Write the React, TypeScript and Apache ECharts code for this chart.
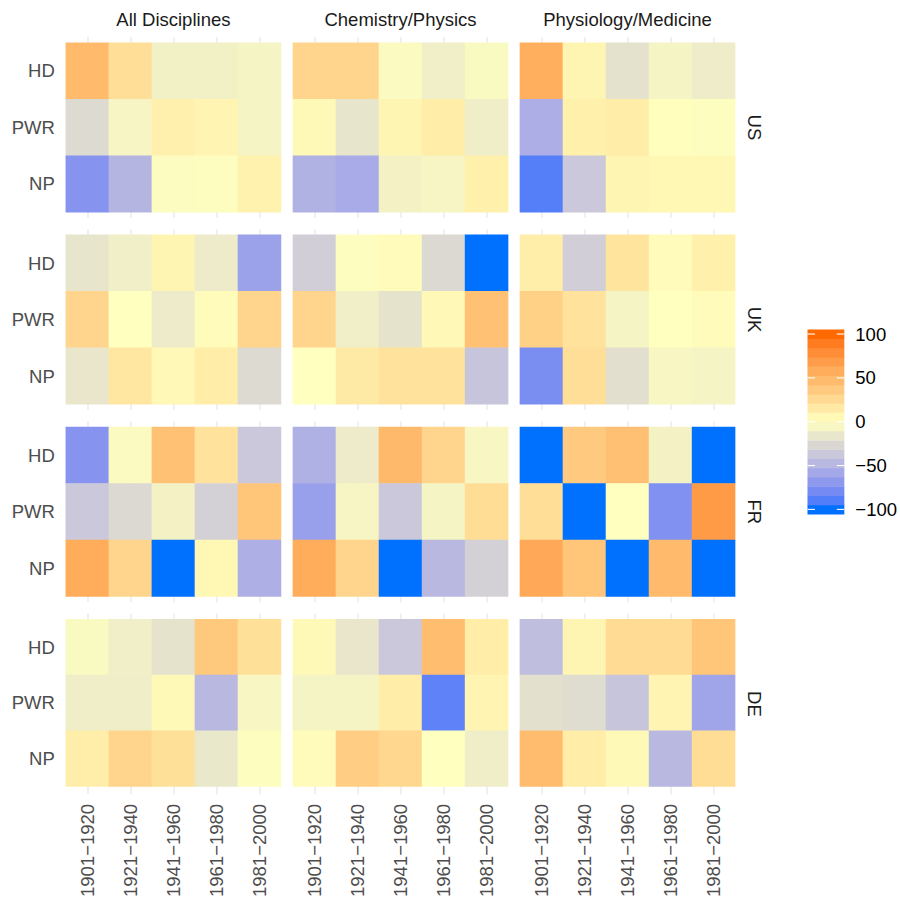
import React, { useEffect, useRef } from "react";
import * as echarts from "echarts";

// ---------- categories ----------
const PERIODS = ["1901−1920", "1921−1940", "1941−1960", "1961−1980", "1981−2000"];
const MEASURES_TOP_DOWN = ["HD", "PWR", "NP"];
const DISCIPLINES = ["All Disciplines", "Chemistry/Physics", "Physiology/Medicine"];
const COUNTRIES = ["US", "UK", "FR", "DE"];

// ---------- values (rows: HD, PWR, NP; columns: periods) ----------
const US_ALL = [[48, 23, -9, -9, -7], [-24, -6, 10, 8, -7], [-72, -49, -2, -1, 9]];
const US_CHEM = [[29, 29, -3, -10, -4], [4, -17, 7, 13, -11], [-51, -56, -8, -6, 11]];
const US_MED = [[56, 7, -19, -7, -12], [-54, 11, 13, 1, -1], [-89, -36, 7, 6, 6]];
const UK_ALL = [[-17, -10, 7, -13, -62], [29, 0, -13, 3, 29], [-16, 17, 5, 13, -24]];
const UK_CHEM = [[-32, -1, 2, -25, -100], [29, -10, -18, 5, 43], [0, 15, 20, 20, -38]];
const UK_MED = [[12, -32, 19, 3, 11], [32, 20, -7, 0, 3], [-77, 23, -21, -5, -7]];
const FR_ALL = [[-72, -3, 43, 20, -36], [-36, -25, -8, -30, 41], [58, 29, -100, 6, -53]];
const FR_CHEM = [[-52, -13, 49, 29, -5], [-64, -6, -36, -7, 24], [58, 29, -100, -47, -30]];
const FR_MED = [[-100, 37, 44, -8, -100], [23, -100, 0, -74, 70], [60, 40, -100, 48, -100]];
const DE_ALL = [[-4, -10, -18, 38, 22], [-11, -11, 4, -47, -5], [12, 29, 22, -15, -1]];
const DE_CHEM = [[4, -16, -36, 46, 13], [-7, -7, 13, -86, 8], [3, 34, 28, 0, -11]];
const DE_MED = [[-43, 7, 25, 25, 40], [-20, -23, -38, 8, -60], [47, 13, 4, -47, 24]];

const PANELS = [
  [US_ALL, US_CHEM, US_MED],
  [UK_ALL, UK_CHEM, UK_MED],
  [FR_ALL, FR_CHEM, FR_MED],
  [DE_ALL, DE_CHEM, DE_MED],
];

const LEGEND_BREAKS = [-100, -50, 0, 50, 100];
const SCALE_MIN = -100;
const SCALE_MAX = 100;
const PALETTE_ANCHORS = ["#0070FF", "#FFFFBF", "#FF6A00"]; // at -100, 0, 100
const LEGEND_NBIN = 20;

// ---------- Lab interpolation (like ggplot's gradientn) ----------
const Xn = 0.95047, Yn = 1.0, Zn = 1.08883;
function lin(c: number) {
  c /= 255;
  return c <= 0.04045 ? c / 12.92 : Math.pow((c + 0.055) / 1.055, 2.4);
}
function unlin(c: number) {
  const v = c <= 0.0031308 ? 12.92 * c : 1.055 * Math.pow(c, 1 / 2.4) - 0.055;
  return Math.round(Math.min(1, Math.max(0, v)) * 255);
}
function fl(t: number) { return t > 0.008856 ? Math.cbrt(t) : 7.787 * t + 16 / 116; }
function finv(t: number) { const t3 = t * t * t; return t3 > 0.008856 ? t3 : (t - 16 / 116) / 7.787; }
function toLab(hex: string) {
  const r = lin(parseInt(hex.slice(1, 3), 16));
  const g = lin(parseInt(hex.slice(3, 5), 16));
  const b = lin(parseInt(hex.slice(5, 7), 16));
  const X = 0.4124 * r + 0.3576 * g + 0.1805 * b;
  const Y = 0.2126 * r + 0.7152 * g + 0.0722 * b;
  const Z = 0.0193 * r + 0.1192 * g + 0.9505 * b;
  const fx = fl(X / Xn), fy = fl(Y / Yn), fz = fl(Z / Zn);
  return [116 * fy - 16, 500 * (fx - fy), 200 * (fy - fz)];
}
function fromLab(L: number, a: number, bb: number) {
  const fy = (L + 16) / 116, fx = fy + a / 500, fz = fy - bb / 200;
  const X = finv(fx) * Xn, Y = finv(fy) * Yn, Z = finv(fz) * Zn;
  const r = 3.2406 * X - 1.5372 * Y - 0.4986 * Z;
  const g = -0.9689 * X + 1.8758 * Y + 0.0415 * Z;
  const b = 0.0557 * X - 0.204 * Y + 1.057 * Z;
  const h = (n: number) => unlin(n).toString(16).padStart(2, "0");
  return "#" + h(r) + h(g) + h(b);
}
function colorAt(v: number) {
  const labs = PALETTE_ANCHORS.map(toLab);
  let A, B, t;
  if (v <= 0) { A = labs[0]; B = labs[1]; t = (v - SCALE_MIN) / (0 - SCALE_MIN); }
  else { A = labs[1]; B = labs[2]; t = v / SCALE_MAX; }
  t = Math.min(1, Math.max(0, t));
  return fromLab(A[0] + (B[0] - A[0]) * t, A[1] + (B[1] - A[1]) * t, A[2] + (B[2] - A[2]) * t);
}
const PALETTE: string[] = [];
for (let v = SCALE_MIN; v <= SCALE_MAX + 1e-9; v += 5) PALETTE.push(colorAt(v));

// ---------- layout ----------
const FONT = "'Liberation Sans', Arial, Helvetica, sans-serif";
const FS = 18.5;
const COL_LEFT = [65.8, 292.9, 519.9];
const PANEL_W = 215.2;
const ROW_TOP = [42.7, 234.85, 427, 619.15];
const PANEL_H = 169.5;
const EXPAND = 5.65;
const LEGEND_TICK_LEN = 7.5;

function buildOption() {
  const grid: any[] = [];
  const xAxis: any[] = [];
  const yAxis: any[] = [];
  const series: any[] = [];
  const heatIdx: number[] = [];
  const halfTicks = Array.from({ length: 11 }, (_, i) => String(i));

  PANELS.forEach((row, r) => {
    row.forEach((mat, c) => {
      // background panel with vertical grid lines (visible in the expansion)
      const gb = grid.length;
      grid.push({ left: COL_LEFT[c], top: ROW_TOP[r] - EXPAND, width: PANEL_W, height: PANEL_H + 2 * EXPAND });
      xAxis.push({
        gridIndex: gb, type: "category", boundaryGap: false, data: halfTicks,
        axisLine: { show: false }, axisTick: { show: false }, axisLabel: { show: false },
        splitLine: { show: true, interval: (i: number) => i % 2 === 1, lineStyle: { color: "#EBEBEB", width: 1.5 } },
      });
      yAxis.push({ gridIndex: gb, type: "value", show: false, splitLine: { show: false } });

      // tile panel
      const gh = grid.length;
      grid.push({ left: COL_LEFT[c], top: ROW_TOP[r], width: PANEL_W, height: PANEL_H });
      xAxis.push({
        gridIndex: gh, type: "category", data: PERIODS,
        axisLine: { show: false }, axisTick: { show: false }, splitLine: { show: false },
        axisLabel: r === PANELS.length - 1
          ? { show: true, interval: 0, rotate: 90, margin: 17.5, fontSize: FS, color: "#4D4D4D", fontFamily: FONT }
          : { show: false },
      });
      yAxis.push({
        gridIndex: gh, type: "category", data: [...MEASURES_TOP_DOWN].reverse(),
        axisLine: { show: false }, axisTick: { show: false }, splitLine: { show: false },
        axisLabel: c === 0
          ? { show: true, margin: 11, fontSize: FS, color: "#4D4D4D", fontFamily: FONT }
          : { show: false },
      });
      const data: number[][] = [];
      mat.forEach((vals, m) => {
        const yi = MEASURES_TOP_DOWN.length - 1 - m;
        vals.forEach((v, xi) => data.push([xi, yi, v]));
      });
      heatIdx.push(series.length);
      series.push({
        type: "heatmap", xAxisIndex: gh, yAxisIndex: gh, data,
        itemStyle: { borderWidth: 0 }, emphasis: { disabled: true }, progressive: 0,
      });
    });
  });

  // legend colour bar
  const gl = grid.length;
  const half = (SCALE_MAX - SCALE_MIN) / (LEGEND_NBIN - 1) / 2;
  grid.push({ left: 807.5, top: 329.4, width: 37.5, height: 184.6 });
  xAxis.push({ gridIndex: gl, type: "value", min: 0, max: 1, show: false, splitLine: { show: false } });
  const yl = yAxis.length;
  yAxis.push({
    gridIndex: gl, type: "value", min: SCALE_MIN - half, max: SCALE_MAX + half, position: "right",
    axisLine: { show: false }, splitLine: { show: false }, axisTick: { show: false },
    axisLabel: {
      show: true, customValues: LEGEND_BREAKS, margin: 11, fontSize: FS, color: "#000000", fontFamily: FONT,
      formatter: (v: number) => String(v).replace("-", "−"),
    },
  });
  const bins = Array.from({ length: LEGEND_NBIN }, (_, i) => SCALE_MIN + (i * (SCALE_MAX - SCALE_MIN)) / (LEGEND_NBIN - 1));
  const legendIdx = series.length;
  series.push({
    type: "custom", xAxisIndex: gl, yAxisIndex: yl, z: 2,
    data: bins.map((v) => [0, v, v]),
    encode: { x: 0, y: 1 },
    renderItem: (_p: any, api: any) => {
      const v = api.value(1);
      const p0 = api.coord([0, v + half]);
      const p1 = api.coord([1, v - half]);
      return {
        type: "rect",
        shape: { x: p0[0], y: p0[1], width: p1[0] - p0[0], height: p1[1] - p0[1] + 0.4 },
        style: { fill: api.visual("color") },
      };
    },
  });
  // white break marks on both edges of the bar
  series.push({
    type: "custom", xAxisIndex: gl, yAxisIndex: yl, z: 4, silent: true,
    data: LEGEND_BREAKS.map((v) => [0, v]),
    encode: { x: 0, y: 1 },
    renderItem: (_p: any, api: any) => {
      const v = api.value(1);
      const a = api.coord([0, v]);
      const b = api.coord([1, v]);
      return {
        type: "group",
        children: [
          { type: "line", shape: { x1: a[0], y1: a[1], x2: a[0] + LEGEND_TICK_LEN, y2: a[1] }, style: { stroke: "#FFFFFF", lineWidth: 1.1 } },
          { type: "line", shape: { x1: b[0] - LEGEND_TICK_LEN, y1: b[1], x2: b[0], y2: b[1] }, style: { stroke: "#FFFFFF", lineWidth: 1.1 } },
        ],
      };
    },
  });

  const graphic: any[] = [];
  DISCIPLINES.forEach((d, c) => {
    graphic.push({
      type: "text", x: COL_LEFT[c] + PANEL_W / 2, y: 19.5,
      style: { text: d, fontSize: FS, fontFamily: FONT, fill: "#1A1A1A", align: "center", verticalAlign: "middle" },
    });
  });
  COUNTRIES.forEach((ct, r) => {
    graphic.push({
      type: "text", x: 754, y: ROW_TOP[r] + PANEL_H / 2, rotation: -Math.PI / 2,
      style: { text: ct, fontSize: FS, fontFamily: FONT, fill: "#1A1A1A", align: "center", verticalAlign: "middle" },
    });
  });

  return {
    animation: false,
    backgroundColor: "#FFFFFF",
    textStyle: { fontFamily: FONT },
    grid, xAxis, yAxis, series, graphic,
    visualMap: {
      type: "continuous", show: false, min: SCALE_MIN, max: SCALE_MAX, dimension: 2,
      seriesIndex: [...heatIdx, legendIdx], inRange: { color: PALETTE },
    },
  };
}

export default function App() {
  const ref = useRef<HTMLDivElement>(null);
  useEffect(() => {
    if (!ref.current) return;
    const chart = echarts.init(ref.current, undefined, { renderer: "svg" });
    chart.setOption(buildOption() as any);
    return () => chart.dispose();
  }, []);
  return <div ref={ref} style={{ position: "absolute", left: 0, top: 0, width: 900, height: 900 }} />;
}
